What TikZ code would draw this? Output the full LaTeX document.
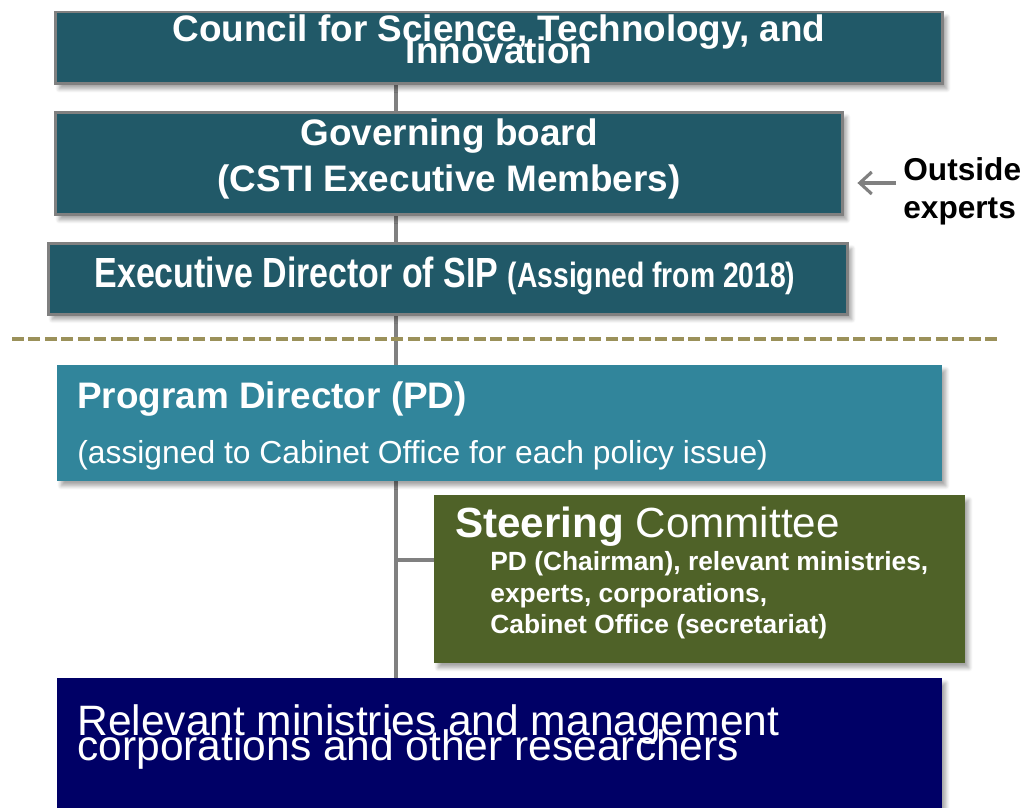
\documentclass[tikz,border=0pt]{standalone}
\usepackage{fontspec}
\setmainfont{Liberation Sans}
\usetikzlibrary{arrows.meta,shadows.blur,backgrounds}

\definecolor{cstiteal}{RGB}{33,89,104}
\definecolor{pdblue}{RGB}{49,133,155}
\definecolor{steerolive}{RGB}{79,98,40}
\definecolor{resnavy}{RGB}{0,0,102}
\definecolor{framegray}{RGB}{128,128,128}
\definecolor{dividertan}{RGB}{155,145,90}

% font helper: size / baselineskip, lines may overlap
\newcommand{\fs}[2]{\fontsize{#1}{#2}\selectfont\lineskiplimit=-\maxdimen}

\tikzset{
  orgbox/.style={rectangle,inner sep=0pt,
    blur shadow={shadow xshift=0.08cm,shadow yshift=-0.1cm,
      shadow blur steps=6,shadow opacity=35}},
  topbox/.style={orgbox,fill=cstiteal,draw=framegray,line width=1.7pt},
  boxtext/.style={inner sep=0pt,text=white},
  spine/.style={draw=framegray,line width=2.8pt},
  divider/.style={draw=dividertan,line width=2pt,dash pattern=on 0.24cm off 0.09cm},
}

\begin{document}
\begin{tikzpicture}[x=0.02cm,y=-0.02cm]
  \useasboundingbox (0,0) rectangle (1026,807);

  % boxes
  \node[topbox,minimum width=17.76cm,minimum height=1.44cm] (council) at (499,48) {};
  \node[topbox,minimum width=15.76cm,minimum height=2.06cm] (gov) at (449,163.5) {};
  \node[topbox,minimum width=16cm,minimum height=1.42cm] (exec) at (448,279) {};
  \node[orgbox,fill=pdblue,minimum width=17.7cm,minimum height=2.32cm] (pd) at (499.5,423) {};
  \node[orgbox,fill=steerolive,minimum width=10.62cm,minimum height=3.36cm] (steer) at (699.5,579) {};
  \node[orgbox,fill=resnavy,minimum width=17.7cm,minimum height=2.84cm] (res) at (499.5,749) {};

  % texts
  \node[boxtext,anchor=north,align=center,font=\fs{21}{13}\bfseries] (council-text) at (499,14)
    {Council for Science, Technology, and\\Innovation};
  \node[boxtext,anchor=north,align=center,font=\fs{21}{26.6}\bfseries] (gov-text) at (449,118)
    {Governing board\\(CSTI Executive Members)};
  \node[boxtext,anchor=base] (exec-text) at (445,287)
    {\scalebox{0.805}[1]{\fs{24}{28}\bfseries Executive Director of SIP
      \fs{20}{24}(Assigned from 2018)}};
  \node[boxtext,anchor=base west,font=\fs{21}{25}\bfseries] (pd-title) at (77,408)
    {Program Director (PD)};
  \node[boxtext,anchor=base west,font=\fs{18.1}{22}] (pd-note) at (77,463)
    {(assigned to Cabinet Office for each policy issue)};
  \node[boxtext,anchor=base west,font=\fs{24}{28}] (steer-title) at (455,537)
    {\bfseries Steering \mdseries Committee};
  \node[boxtext,anchor=north west,align=left,font=\fs{15}{18}\bfseries] (steer-members) at (490,551)
    {PD (Chairman), relevant ministries,\\experts, corporations,\\Cabinet Office (secretariat)};
  \node[boxtext,anchor=north west,align=left,font=\fs{24.2}{14.2}] (res-text) at (77,704)
    {Relevant ministries and management\\corporations and other researchers};
  \node[inner sep=0pt,anchor=north west,align=left,font=\fs{18}{21.5}\bfseries] (outside) at (903,157)
    {Outside\\experts};

  % connectors
  \coordinate (spine) at (396,0);
  \coordinate (branch) at (396,560);
  \coordinate (advice) at (896,183);
  \begin{scope}[on background layer]
    \draw[spine] (spine |- council.south) -- (spine |- res.north);
    \draw[spine] (branch) -- (branch -| steer.west);
  \end{scope}
  \draw[draw=framegray,line width=1.8pt,-{Straight Barb[length=0.24cm,width=0.44cm]},
    shorten >=0.26cm] (advice) -- (advice -| gov.east);

  \draw[divider] (12,339) -- (997,339);
\end{tikzpicture}
\end{document}
